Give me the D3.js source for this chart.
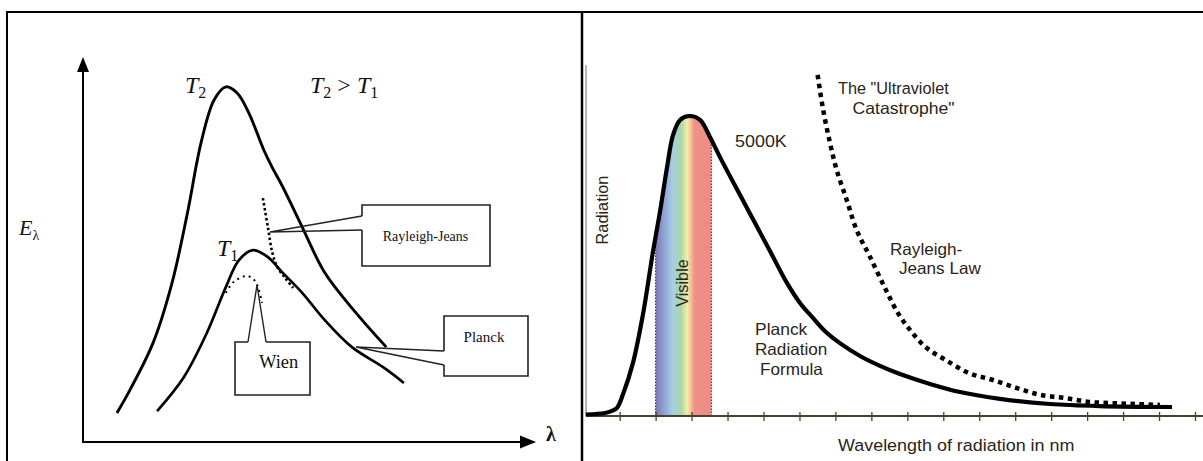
<!DOCTYPE html>
<html>
<head>
<meta charset="utf-8">
<script src="https://cdn.jsdelivr.net/npm/d3@7"></script>
<style>
  html, body { margin: 0; padding: 0; background: #fff; }
  svg { display: block; }
</style>
</head>
<body>
<svg id="chart" width="1203" height="461"></svg>
<script>
"use strict";

// ---------------------------------------------------------------------------
// Two black-body pictures side by side. Left: schematic E(λ) for two
// temperatures with the Rayleigh-Jeans / Wien / Planck callouts (arbitrary
// units 0–100 on both axes). Right: the 5000 K Planck curve against the
// Rayleigh-Jeans law, wavelength in nm, radiation scaled so the peak is 100.
// ---------------------------------------------------------------------------

// left panel, arbitrary units
const t2Lambda = [7.5, 10.4, 15.5, 19.7, 23.1, 26.1, 29.0, 31.6, 34.1, 36.7, 40.0, 41.8, 44.2, 48.5, 53.5, 60.4, 67.1];
const t2E      = [7.8, 13.8, 26.0, 41.6, 59.7, 77.9, 89.1, 92.5, 90.9, 85.7, 76.1, 71.7, 66.5, 56.1, 44.2, 33.8, 24.9];
const t1Lambda = [16.4, 22.3, 27.4, 31.6, 34.5, 37.6, 40.9, 44.2, 48.5, 53.5, 59.5, 66.4, 71.0];
const t1E      = [8.3, 17.1, 28.6, 40.5, 47.5, 50.1, 48.3, 44.2, 39.0, 31.9, 24.9, 19.7, 15.6];
const rjLeftLambda = [39.8, 40.9, 41.9, 43.0, 44.7, 46.5];
const rjLeftE      = [63.6, 56.1, 49.4, 45.7, 42.9, 40.3];
const wienLambda = [31.6, 33.3, 36.3, 37.9, 38.7, 39.6];
const wienE      = [39.0, 41.8, 43.4, 42.3, 40.5, 36.4];

// right panel: 5000 K
const planckNm  = [12, 118, 157, 185, 219, 274, 330, 385, 424, 463, 497, 536, 586, 647, 702, 758, 864, 953,
                   1042, 1131, 1203, 1275, 1347, 1425, 1537, 1648, 1759, 1926, 2093, 2315, 2593, 2871, 3272];
const planckRad = [0.5, 1, 1.7, 2.7, 7.3, 17.7, 34, 54.7, 68, 82.7, 93.7, 98.7, 100, 98.7, 93, 86.3, 74.3, 64.3,
                   54.3, 44.3, 37.7, 32.7, 28, 24.3, 20, 16.7, 14, 10.7, 8, 5.7, 4, 3.3, 3];
const rjNm  = [1301, 1332, 1370, 1407, 1463, 1518, 1592, 1681, 1748, 1815, 1901, 2012, 2143, 2276, 2410,
               2543, 2677, 2810, 2938, 3071, 3205];
const rjRad = [113.7, 102, 91, 82, 72, 62, 53.1, 42, 34.3, 28.7, 23, 18.7, 14.3, 12, 9.3, 7, 6, 4.7, 4.3, 4, 3.7];
const visibleNm = [400, 710];
const tickNm = [200, 400, 600, 800, 1000, 1200, 1400, 1600, 1800, 2000, 2200, 2400, 2600, 2800, 3000, 3200, 3400];

// spectrum colours across the visible band (violet → red)
const SPECTRUM = [
  [0.00, "#7c78b4"], [0.14, "#8e9fd3"], [0.30, "#a6cde6"], [0.45, "#a9d6a9"],
  [0.57, "#f2efa8"], [0.64, "#f6b896"], [0.70, "#f09189"], [1.00, "#ee8b85"],
];

const SERIF = "'Liberation Serif', 'Times New Roman', serif";
const SANS = "'Liberation Sans', Arial, Helvetica, sans-serif";
const INK = "#2a2418";

const svg = d3.select("#chart");
const zip = (xs, ys) => xs.map((x, i) => [x, ys[i]]);

// --- frame ---------------------------------------------------------------
const frame = svg.append("g").attr("stroke", "#000").attr("fill", "none");
frame.append("line").attr("x1", 7).attr("x2", 1203).attr("y1", 12).attr("y2", 12).attr("stroke-width", 2);
frame.append("line").attr("x1", 7).attr("x2", 7).attr("y1", 11).attr("y2", 461).attr("stroke-width", 2);
frame.append("line").attr("x1", 582).attr("x2", 582).attr("y1", 11).attr("y2", 461).attr("stroke-width", 2.5);

// --- left panel ------------------------------------------------------------
const xL = d3.scaleLinear().domain([0, 100]).range([83, 535]);
const yL = d3.scaleLinear().domain([0, 100]).range([443, 58]);
const lineL = d3.line().x((d) => xL(d[0])).y((d) => yL(d[1])).curve(d3.curveCatmullRom.alpha(0.5));

const left = svg.append("g");

// axes with filled arrowheads
left.append("line").attr("x1", 83).attr("x2", 83).attr("y1", 443).attr("y2", 70)
  .attr("stroke", "#000").attr("stroke-width", 2);
left.append("path").attr("d", "M83,57 L77,72 L89,72 Z").attr("fill", "#000");
left.append("line").attr("x1", 82).attr("x2", 522).attr("y1", 442).attr("y2", 442)
  .attr("stroke", "#000").attr("stroke-width", 2);
left.append("path").attr("d", "M536,442 L520,435.5 L520,448.5 Z").attr("fill", "#000");

left.append("path").datum(zip(t2Lambda, t2E)).attr("d", lineL)
  .attr("fill", "none").attr("stroke", "#000").attr("stroke-width", 2.9);
left.append("path").datum(zip(t1Lambda, t1E)).attr("d", lineL)
  .attr("fill", "none").attr("stroke", "#000").attr("stroke-width", 2.7);
left.append("path").datum(zip(rjLeftLambda, rjLeftE)).attr("d", lineL)
  .attr("fill", "none").attr("stroke", "#000").attr("stroke-width", 2.6).attr("stroke-dasharray", "2.5 2.5");
left.append("path").datum(zip(wienLambda, wienE)).attr("d", lineL)
  .attr("fill", "none").attr("stroke", "#000").attr("stroke-width", 2).attr("stroke-dasharray", "2 4");

// callout boxes (box outline leaves a gap where the pointer joins)
const callouts = [
  { box: "M362,216 L362,205 L490,205 L490,266 L362,266 L362,230", ptr: "M362,216 L270,232 L362,230" },
  { box: "M444,351 L444,316 L528,316 L528,376 L444,376 L444,365", ptr: "M444,351 L356,347 L444,365" },
  { box: "M248,342 L235,342 L235,395 L310,395 L310,342 L266,342", ptr: "M248,342 L257,285 L266,342" },
];
callouts.forEach((c) => {
  left.append("path").attr("d", c.box).attr("fill", "#fff").attr("stroke", "#222").attr("stroke-width", 1.6);
  left.append("path").attr("d", c.ptr).attr("fill", "none").attr("stroke", "#222").attr("stroke-width", 1.4);
});

const serifText = (x, y, size) =>
  left.append("text").attr("x", x).attr("y", y).attr("font-family", SERIF)
    .attr("font-size", size).attr("fill", "#111");

serifText(425.5, 240.5, 14).attr("text-anchor", "middle").text("Rayleigh-Jeans");
serifText(484, 342, 15).attr("text-anchor", "middle").text("Planck");
serifText(259, 368, 18.5).text("Wien");

// E_λ, T labels: italic letter with upright subscript
function subLabel(x, y, main, sub, size, subSize) {
  const t = serifText(x, y, size);
  t.append("tspan").attr("font-style", "italic").text(main);
  t.append("tspan").attr("font-size", subSize).attr("dy", size * 0.22).text(sub);
  return t;
}
subLabel(19, 235, "E", "λ", 22, 14);
subLabel(185, 93, "T", "2", 24, 16);
subLabel(217, 256, "T", "1", 24, 16);
{
  const t = serifText(310, 93, 24);
  t.append("tspan").attr("font-style", "italic").text("T");
  t.append("tspan").attr("font-size", 16).attr("dy", 5).text("2");
  t.append("tspan").attr("dy", -5).text(" > ");
  t.append("tspan").attr("font-style", "italic").text("T");
  t.append("tspan").attr("font-size", 16).attr("dy", 5).text("1");
}
serifText(546, 441, 20).attr("font-weight", "bold").text("λ");

// --- right panel -----------------------------------------------------------
const xR = d3.scaleLinear().domain([0, 3400]).range([583.7, 1195]);
const yR = d3.scaleLinear().domain([0, 100]).range([416, 116]);
const right = svg.append("g");

const planck = zip(planckNm, planckRad);
const lineR = d3.line().x((d) => xR(d[0])).y((d) => yR(d[1])).curve(d3.curveCatmullRom.alpha(0.5));
const areaR = d3.area().x((d) => xR(d[0])).y0(yR(0)).y1((d) => yR(d[1])).curve(d3.curveCatmullRom.alpha(0.5));

// visible band: gradient fill under the curve, clipped to 400–710 nm
const defs = svg.append("defs");
const grad = defs.append("linearGradient").attr("id", "spectrum")
  .attr("gradientUnits", "userSpaceOnUse")
  .attr("x1", xR(visibleNm[0])).attr("x2", xR(visibleNm[1])).attr("y1", 0).attr("y2", 0);
grad.selectAll("stop").data(SPECTRUM).enter().append("stop")
  .attr("offset", (d) => d[0]).attr("stop-color", (d) => d[1]);
defs.append("clipPath").attr("id", "visClip").append("rect")
  .attr("x", xR(visibleNm[0])).attr("width", xR(visibleNm[1]) - xR(visibleNm[0]))
  .attr("y", 0).attr("height", yR(0));
right.append("path").datum(planck).attr("d", areaR)
  .attr("fill", "url(#spectrum)").attr("clip-path", "url(#visClip)");

// dotted edges of the band, up to the curve
const radAt = (nm) => {
  const i = d3.bisector((d) => d[0]).right(planck, nm);
  const a = planck[i - 1], b = planck[i];
  return a[1] + ((nm - a[0]) / (b[0] - a[0])) * (b[1] - a[1]);
};
right.selectAll("line.vis-edge").data(visibleNm).enter().append("line")
  .attr("class", "vis-edge")
  .attr("x1", (d) => xR(d)).attr("x2", (d) => xR(d))
  .attr("y1", yR(0)).attr("y2", (d) => yR(radAt(d)))
  .attr("stroke", "#333").attr("stroke-width", 1).attr("stroke-dasharray", "1.5 1.5");

// axes
const AXIS = "#4a3f2e";
right.append("line").attr("x1", 586).attr("x2", 586).attr("y1", 65).attr("y2", 416)
  .attr("stroke", "#8a8070").attr("stroke-width", 1.2);
const xAxis = right.append("g").attr("transform", "translate(0,412)")
  .call(d3.axisBottom(xR).tickValues(tickNm).tickSize(9).tickFormat(""));
xAxis.select(".domain").remove();
xAxis.selectAll(".tick line").attr("stroke", AXIS).attr("stroke-width", 1.3);
right.append("line").attr("x1", 586).attr("x2", 1203).attr("y1", 416).attr("y2", 416)
  .attr("stroke", AXIS).attr("stroke-width", 1.8);

// Rayleigh-Jeans law and the Planck curve
right.append("path").datum(zip(rjNm, rjRad)).attr("d", lineR)
  .attr("fill", "none").attr("stroke", "#000").attr("stroke-width", 4.5).attr("stroke-dasharray", "4.5 4.5");
right.append("path").datum(planck).attr("d", lineR)
  .attr("fill", "none").attr("stroke", "#000").attr("stroke-width", 4.2).attr("stroke-linejoin", "round");

// the source picture is slightly stretched horizontally, so labels get a small x-scale
const sansText = (x, y, s, sx = 1.05) =>
  right.append("text").attr("transform", `translate(${x},${y}) scale(${sx},1)`)
    .attr("font-family", SANS).attr("font-size", 16.3).attr("fill", INK).text(s);

sansText(838, 94, "The \"Ultraviolet", 1.0);
sansText(852.5, 113.5, "Catastrophe\"", 1.08);
sansText(735, 147, "5000K", 1.1);
sansText(890, 255, "Rayleigh-");
sansText(899, 274, "Jeans Law");
sansText(755, 335, "Planck", 1.07);
sansText(755, 355, "Radiation");
sansText(760, 375, "Formula");
sansText(838, 451, "Wavelength of radiation in nm", 1.1);

right.append("text").attr("transform", "translate(608,210) rotate(-90)")
  .attr("text-anchor", "middle").attr("font-family", SANS).attr("font-size", 16.3)
  .attr("fill", INK).text("Radiation");
right.append("text").attr("transform", "translate(688,283) rotate(-90)")
  .attr("text-anchor", "middle").attr("font-family", SANS).attr("font-size", 16.3)
  .attr("fill", INK).text("Visible");
</script>
</body>
</html>
